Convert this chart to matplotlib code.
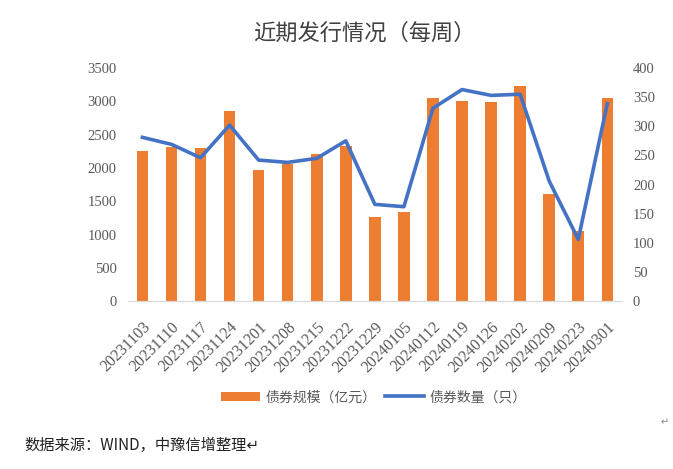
import matplotlib.pyplot as plt

plt.rcParams['font.family'] = ['Noto Sans CJK SC', 'DejaVu Sans']

weeks = ['20231103', '20231110', '20231117', '20231124', '20231201', '20231208',
         '20231215', '20231222', '20231229', '20240105', '20240112', '20240119',
         '20240126', '20240202', '20240209', '20240223', '20240301']
scale = [2250, 2310, 2305, 2850, 1965, 2060, 2215, 2335, 1260, 1335,
         3055, 3000, 2985, 3225, 1605, 1060, 3055]
count = [281, 269, 246, 302, 242, 238, 245, 275, 166, 162,
         331, 363, 353, 355, 206, 106, 339]

text_color = '#595959'
serif = ['Liberation Serif', 'DejaVu Serif']

fig = plt.figure(figsize=(6.73, 4.69), dpi=100)
ax = fig.add_axes([0.190, 0.358, 0.734, 0.497])
ax2 = ax.twinx()

x = range(len(weeks))
b = ax.bar(x, scale, width=0.4, color='#ED7D31', label='债券规模（亿元）')
l, = ax2.plot(x, count, color='#4472C4', linewidth=2.6, label='债券数量（只）')

ax.set_xlim(-0.5, len(weeks) - 0.5)
ax.set_ylim(0, 3500)
ax.set_yticks(range(0, 3501, 500))
ax2.set_ylim(0, 400)
ax2.set_yticks(range(0, 401, 50))

for a in (ax, ax2):
    for s in ['top', 'left', 'right']:
        a.spines[s].set_visible(False)
    a.spines['bottom'].set_color('#D9D9D9')
    a.tick_params(axis='y', length=0, labelcolor=text_color, labelsize=10.5)
    for t in a.get_yticklabels():
        t.set_fontfamily(serif)
ax.tick_params(axis='y', pad=8)
ax2.tick_params(axis='y', pad=8)

ax.set_xticks(list(x))
ax.set_xticklabels(weeks, rotation=45, ha='right', rotation_mode='anchor',
                   fontsize=11.5, color=text_color, family=serif)
ax.tick_params(axis='x', length=0, pad=13)

fig.text(0.542, 0.93, '近期发行情况（每周）', ha='center', va='center',
         fontsize=16, color='#404040')
fig.legend([b, l], ['债券规模（亿元）', '债券数量（只）'], loc='center',
           bbox_to_anchor=(0.555, 0.153), ncol=2, frameon=False, fontsize=10,
           labelcolor=text_color, handlelength=2.8, columnspacing=0.6,
           handletextpad=0.4)
fig.text(0.037, 0.05, '数据来源：WIND，中豫信增整理↵', ha='left', va='center',
         fontsize=11, color='#222222')
fig.text(0.993, 0.10, '↵', ha='right', va='center', fontsize=7,
         color='#888888', family=['DejaVu Sans'])

fig.savefig('out.png', dpi=100)
